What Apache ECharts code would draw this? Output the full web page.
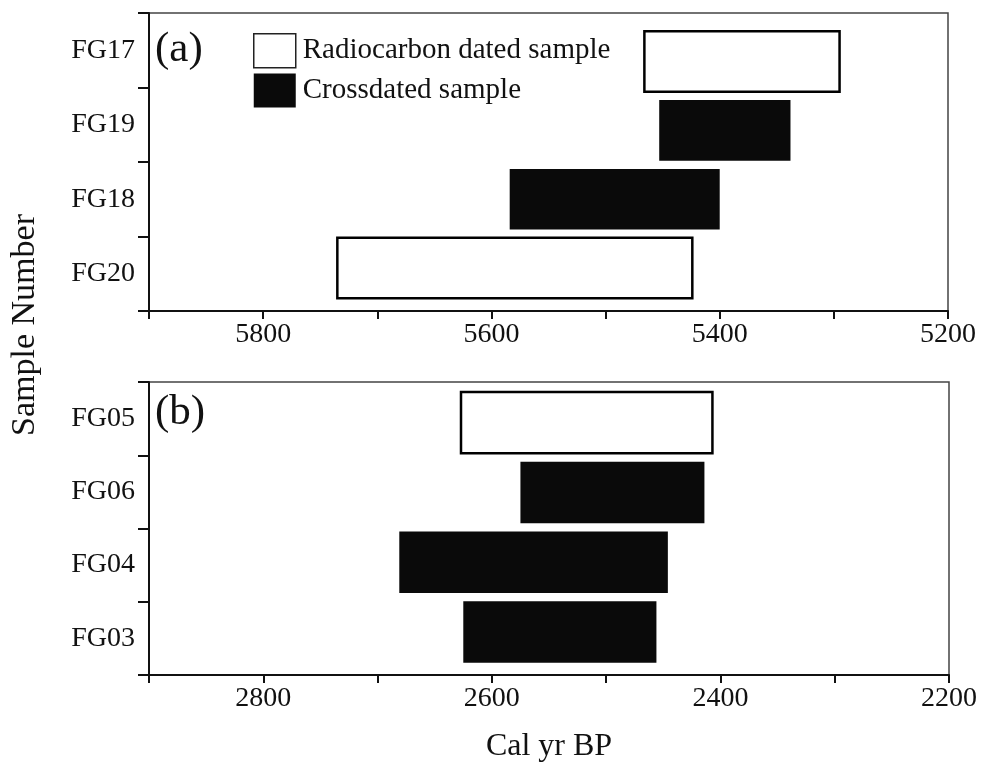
<!DOCTYPE html>
<html>
<head>
<meta charset="utf-8">
<script src="https://cdn.jsdelivr.net/npm/echarts@6/dist/echarts.min.js"></script>
<style>
    html, body {margin: 0; padding: 0; background: #fff;}
    #main {width: 984px; height: 765px;}
</style>
</head>
<body>
<div id="main"></div>
<script>
// panel (a)
let samplesA = ['FG20', 'FG18', 'FG19', 'FG17'];
let startA = [5735, 5584, 5453, 5466];
let endA = [5424, 5400, 5338, 5295];
let typeA = ['radio', 'cross', 'cross', 'radio'];

// panel (b)
let samplesB = ['FG03', 'FG04', 'FG06', 'FG05'];
let startB = [2625, 2681, 2575, 2627];
let endB = [2456, 2446, 2414, 2407];
let typeB = ['cross', 'cross', 'cross', 'radio'];

let rangeA = [5200, 5900];
let rangeB = [2200, 2900];

let FONT = 'Liberation Serif';
let chart = echarts.init(document.getElementById('main'));

// bar rows sit on a hidden row axis (row 1 = bottom sample)
let pick = (starts, ends, types, t) => {
    let out = [];
    types.forEach((ty, i) => {
        if (ty === t) out.push([starts[i], ends[i], i + 1]);
    });
    return out;
};

let renderBar = (params, api) => {
    let p1 = api.coord([api.value(0), api.value(2)]);
    let p2 = api.coord([api.value(1), api.value(2)]);
    let h = api.size([0, 1])[1] * 0.88;
    return {
        type: 'rect',
        shape: {x: Math.min(p1[0], p2[0]), y: p1[1] - h / 2, width: Math.abs(p2[0] - p1[0]), height: h},
        style: api.style()
    };
};

let radioStyle = {color: '#fff', borderColor: '#000', borderWidth: 2.5};
let crossStyle = {color: '#0a0a0a', borderColor: '#0a0a0a', borderWidth: 0};

let xAxisOf = (idx, range, withName) => ({
    type: 'value',
    gridIndex: idx,
    inverse: true,
    min: range[0],
    max: range[1],
    interval: 100,
    splitLine: {show: false},
    axisLine: {show: true, lineStyle: {color: '#111', width: 2}},
    axisTick: {show: true, length: 8, lineStyle: {color: '#111', width: 2}},
    axisLabel: {
        color: '#111', fontFamily: FONT, fontSize: 28, margin: 10,
        formatter: v => (v % 200 === 0 ? String(v) : '')
    },
    name: withName ? 'Cal yr BP' : '',
    nameLocation: 'middle',
    nameGap: 56,
    nameTextStyle: {color: '#111', fontFamily: FONT, fontSize: 32}
});

let yAxisOf = (idx, cats) => ({
    type: 'category',
    gridIndex: idx,
    data: cats,
    axisLine: {show: true, lineStyle: {color: '#111', width: 2}},
    axisTick: {show: true, length: 11, lineStyle: {color: '#111', width: 2}},
    axisLabel: {color: '#111', fontFamily: FONT, fontSize: 28, margin: 14},
    splitLine: {show: false}
});

let rowAxisOf = (idx, min, max) => ({
    type: 'value',
    gridIndex: idx,
    min: min,
    max: max,
    show: false
});

chart.setOption({
    animation: false,
    backgroundColor: '#fff',
    grid: [
        {left: 149, top: 13, width: 799, height: 298, show: true, borderColor: '#444', borderWidth: 1.5},
        {left: 149, top: 382, width: 800, height: 293, show: true, borderColor: '#444', borderWidth: 1.5}
    ],
    xAxis: [xAxisOf(0, rangeA, false), xAxisOf(1, rangeB, true)],
    yAxis: [
        yAxisOf(0, samplesA), yAxisOf(1, samplesB),
        rowAxisOf(0, 0.375, 4.706), rowAxisOf(1, 0.384, 4.582)
    ],
    legend: {
        orient: 'vertical',
        left: 248,
        top: 28,
        itemWidth: 42,
        itemHeight: 34,
        itemGap: 5,
        selectedMode: false,
        icon: 'rect',
        textStyle: {color: '#111', fontFamily: FONT, fontSize: 29, padding: [0, 0, 0, 2]},
        data: [
            {name: 'Radiocarbon dated sample', itemStyle: {color: '#fff', borderColor: '#222', borderWidth: 1.5}},
            {name: 'Crossdated sample', itemStyle: {color: '#0a0a0a'}}
        ]
    },
    graphic: [
        {type: 'text', left: 155, top: 28, style: {text: '(a)', font: '43px "Liberation Serif"', fill: '#111'}},
        {type: 'text', left: 155, top: 391, style: {text: '(b)', font: '43px "Liberation Serif"', fill: '#111'}},
        {
            type: 'text', x: 25, y: 325, rotation: Math.PI / 2,
            style: {text: 'Sample Number', font: '34px "Liberation Serif"', fill: '#111', align: 'center', verticalAlign: 'middle'}
        }
    ],
    series: [
        {name: 'Radiocarbon dated sample', type: 'custom', xAxisIndex: 0, yAxisIndex: 2, renderItem: renderBar, itemStyle: radioStyle, data: pick(startA, endA, typeA, 'radio')},
        {name: 'Crossdated sample', type: 'custom', xAxisIndex: 0, yAxisIndex: 2, renderItem: renderBar, itemStyle: crossStyle, data: pick(startA, endA, typeA, 'cross')},
        {name: 'Radiocarbon dated sample', type: 'custom', xAxisIndex: 1, yAxisIndex: 3, renderItem: renderBar, itemStyle: radioStyle, data: pick(startB, endB, typeB, 'radio')},
        {name: 'Crossdated sample', type: 'custom', xAxisIndex: 1, yAxisIndex: 3, renderItem: renderBar, itemStyle: crossStyle, data: pick(startB, endB, typeB, 'cross')}
    ]
});
</script>
</body>
</html>
